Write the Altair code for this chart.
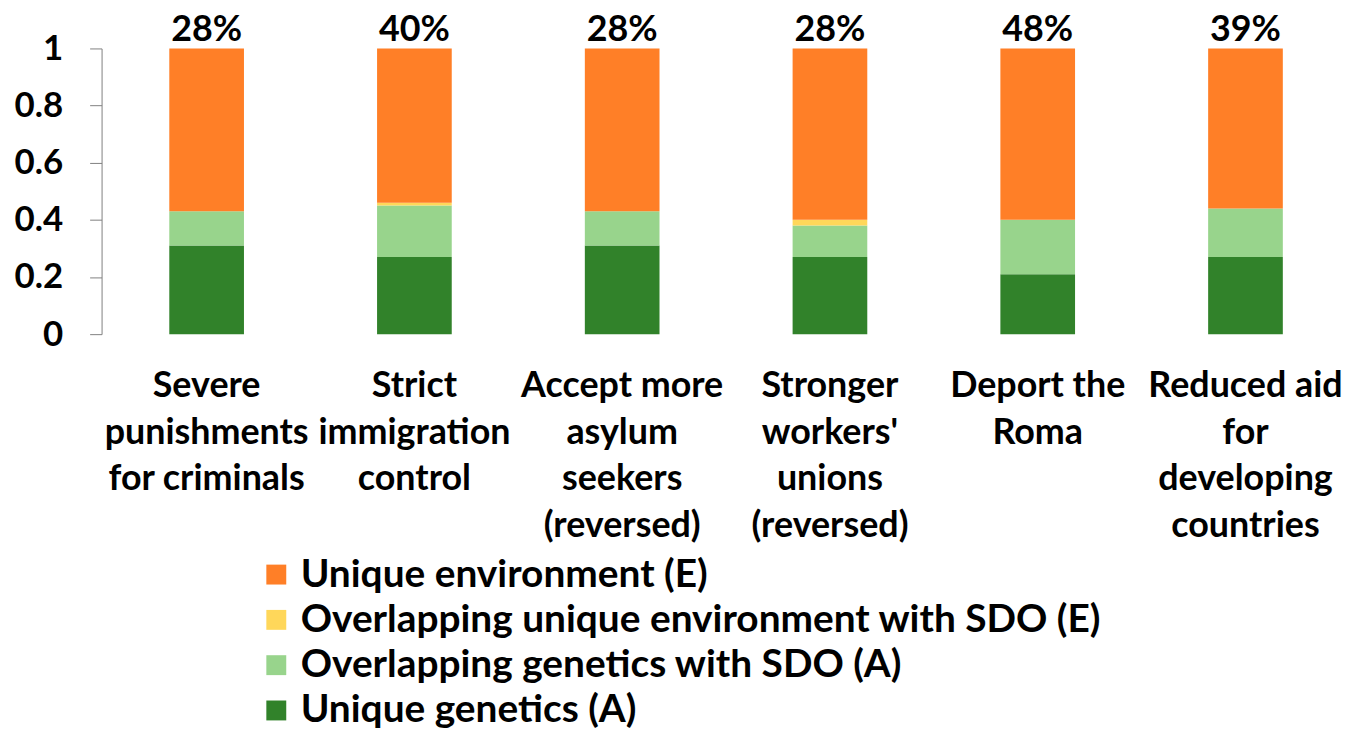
import altair as alt
import pandas as pd

categories = [
    "Severe|punishments|for criminals",
    "Strict|immigration|control",
    "Accept more|asylum|seekers|(reversed)",
    "Stronger|workers'|unions|(reversed)",
    "Deport the|Roma",
    "Reduced aid|for|developing|countries",
]
unique_A = [0.31, 0.27, 0.31, 0.27, 0.21, 0.27]
overlap_A = [0.12, 0.18, 0.12, 0.11, 0.19, 0.17]
overlap_E = [0.0, 0.01, 0.0, 0.02, 0.0, 0.0]
unique_E = [0.57, 0.54, 0.57, 0.60, 0.60, 0.56]
pct_labels = ["28%", "40%", "28%", "28%", "48%", "39%"]

series = [
    "Unique environment (E)",
    "Overlapping unique environment with SDO (E)",
    "Overlapping genetics with SDO (A)",
    "Unique genetics (A)",
]
colors = ["#FF7F27", "#FFD75A", "#98D48C", "#31822A"]

rows = []
for i, c in enumerate(categories):
    for name, vals, order in [
        (series[3], unique_A, 1),
        (series[2], overlap_A, 2),
        (series[1], overlap_E, 3),
        (series[0], unique_E, 4),
    ]:
        rows.append({"cat": c, "series": name, "value": vals[i], "ord": order})
df = pd.DataFrame(rows)
df_lab = pd.DataFrame({"cat": categories, "label": pct_labels, "top": [1.0] * 6})

FONT = "Lato"

xscale = alt.Scale(domain=categories, paddingInner=0.6406, paddingOuter=0.291,
                   align=0.56, round=False)

bars = alt.Chart(df).mark_bar().encode(
    x=alt.X("cat:N", scale=xscale, sort=categories,
            axis=alt.Axis(title=None, labelAngle=0, domain=False, ticks=False,
                          labelExpr="split(datum.label, '|')",
                          labelFont=FONT, labelFontWeight="bold", labelFontSize=36,
                          labelColor="black", labelLineHeight=46.7,
                          labelBaseline="top", labelPadding=35,
                          labelOverlap=False, labelBound=False, labelLimit=0)),
    y=alt.Y("value:Q", stack="zero", scale=alt.Scale(domain=[0, 1], nice=False),
            axis=alt.Axis(title=None, values=[0, 0.2, 0.4, 0.6, 0.8, 1], format="~g",
                          grid=False, domainColor="#808080", tickColor="#808080",
                          tickSize=12, labelPadding=27,
                          labelFont=FONT, labelFontWeight="bold", labelFontSize=35,
                          labelColor="black")),
    color=alt.Color("series:N", scale=alt.Scale(domain=series, range=colors),
                    legend=alt.Legend(title=None, orient="none", legendX=156, legendY=509,
                                      symbolType="square", symbolSize=400,
                                      symbolStrokeWidth=0, labelOffset=5,
                                      labelFont=FONT, labelFontWeight="bold",
                                      labelFontSize=39, labelColor="black",
                                      rowPadding=5.5, labelLimit=0, padding=0)),
    order=alt.Order("ord:Q", sort="ascending"),
)

labels = alt.Chart(df_lab).mark_text(
    font=FONT, fontWeight="bold", fontSize=36, color="black",
    baseline="alphabetic", dy=-7.5,
).encode(
    x=alt.X("cat:N", scale=xscale, sort=categories),
    y=alt.Y("top:Q"),
    text="label:N",
)

chart = alt.layer(bars, labels).properties(
    width=1240, height=287,
    autosize=alt.AutoSizeParams(type="none"),
    padding={"left": 94, "top": 39, "right": 6, "bottom": 396},
).configure_view(stroke=None)

chart.save("out.html", embed_options={"renderer": "svg", "actions": False})
